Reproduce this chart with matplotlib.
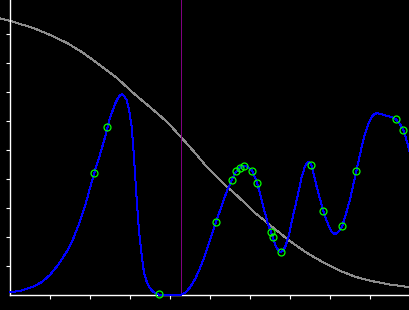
import matplotlib
matplotlib.use("Agg")
import matplotlib.pyplot as plt

# blue curve (objective), sampled along x
curve_x = [0.00, 0.29, 0.575, 0.79, 0.99, 1.19, 1.41, 1.57, 1.74, 1.87, 1.99, 2.12, 2.24, 2.37,
           2.49, 2.62, 2.70, 2.76, 2.80, 2.84, 2.91, 2.97, 3.035, 3.08, 3.12, 3.17, 3.22, 3.285,
           3.34, 3.41, 3.49, 3.575, 3.69, 3.87, 4.19, 4.29, 4.39, 4.49, 4.62, 4.74, 4.87, 4.99,
           5.14, 5.29, 5.425, 5.54, 5.64, 5.74, 5.87, 5.97, 6.05, 6.175, 6.325, 6.44, 6.54, 6.64,
           6.74, 6.82, 6.89, 6.97, 7.035, 7.16, 7.285, 7.37, 7.45, 7.52, 7.66, 7.825, 7.94, 8.04,
           8.12, 8.22, 8.30, 8.39, 8.49, 8.65, 8.74, 8.825, 8.92, 8.99, 9.07, 9.16, 9.27, 9.41,
           9.52, 9.635, 9.74, 9.825, 9.89, 9.95, 9.99]
curve_y = [0.10, 0.17, 0.30, 0.46, 0.70, 1.04, 1.50, 1.94, 2.54, 3.08, 3.69, 4.32, 4.84, 5.46,
           6.11, 6.60, 6.82, 6.92, 6.93, 6.88, 6.73, 6.39, 5.81, 5.01, 4.15, 3.11, 2.18, 1.39,
           0.80, 0.47, 0.25, 0.12, 0.03, 0.0, 0.0, 0.03, 0.11, 0.27, 0.56, 0.93, 1.39, 1.91,
           2.52, 3.11, 3.63, 3.98, 4.25, 4.41, 4.46, 4.39, 4.29, 3.86, 3.06, 2.46, 2.11, 1.67,
           1.49, 1.53, 1.73, 2.11, 2.54, 3.29, 4.08, 4.46, 4.61, 4.53, 3.74, 2.90, 2.46, 2.18,
           2.10, 2.22, 2.39, 2.80, 3.29, 4.28, 4.84, 5.36, 5.80, 6.04, 6.22, 6.28, 6.25, 6.19,
           6.15, 6.07, 5.91, 5.69, 5.42, 5.12, 4.90]

# sampled points
obs_x = [2.10, 2.425, 3.71, 5.15, 5.55, 5.65, 5.74, 5.83, 6.05, 6.175, 6.52, 6.575, 6.775,
         7.52, 7.825, 8.30, 8.65, 9.635, 9.825]
obs_y = [4.21, 5.79, 0.03, 2.52, 3.97, 4.29, 4.38, 4.46, 4.29, 3.86, 2.17, 2.02, 1.50,
         4.49, 2.89, 2.38, 4.28, 6.07, 5.69]

# gray decreasing curve
gray_x = [-0.2575, 0.0, 0.57, 0.99, 1.42, 1.82, 2.24, 2.67, 3.07, 3.49, 3.92, 4.29, 4.62,
          4.91, 5.37, 5.70, 6.12, 6.54, 6.95, 7.37, 7.79, 8.20, 8.62, 9.04, 9.45, 9.99]
gray_y = [9.55, 9.46, 9.22, 8.98, 8.70, 8.36, 7.94, 7.49, 6.98, 6.49, 5.98, 5.42, 4.91,
          4.43, 3.80, 3.40, 2.84, 2.37, 1.91, 1.50, 1.16, 0.87, 0.64, 0.49, 0.38, 0.28]

vline_x = 4.275

fig = plt.figure(figsize=(4.1, 3.1), dpi=100, facecolor="black")
ax = fig.add_axes([10.3 / 410, 14.7 / 310, 400 / 410, 295.3 / 310], facecolor="black")

px = 72 / 100  # one pixel in points
ax.plot(gray_x, gray_y, color="#8c8c8c", lw=px, clip_on=False, antialiased=False, zorder=2)
ax.axvline(vline_x, color="#800080", lw=px, antialiased=False, zorder=2)
ax.plot(curve_x, curve_y, color="#0000ff", lw=px, clip_on=False, antialiased=False, zorder=3)
ax.plot(obs_x, obs_y, ls="none", marker="o", ms=5, mfc="none", mec="#00ff00", mew=0.9,
        clip_on=False, zorder=4)

ax.set_xlim(0, 10)
ax.set_ylim(0, 295.3 / 29)
ax.set_xticks(range(1, 10))
ax.set_yticks(range(1, 10))
ax.set_xticklabels([])
ax.set_yticklabels([])
ax.tick_params(colors="white", length=3, width=0.8, direction="out")
for side in ("top", "right"):
    ax.spines[side].set_visible(False)
for side in ("left", "bottom"):
    ax.spines[side].set_color("white")
    ax.spines[side].set_linewidth(1.0)

fig.savefig("out.png", dpi=100, facecolor="black")
